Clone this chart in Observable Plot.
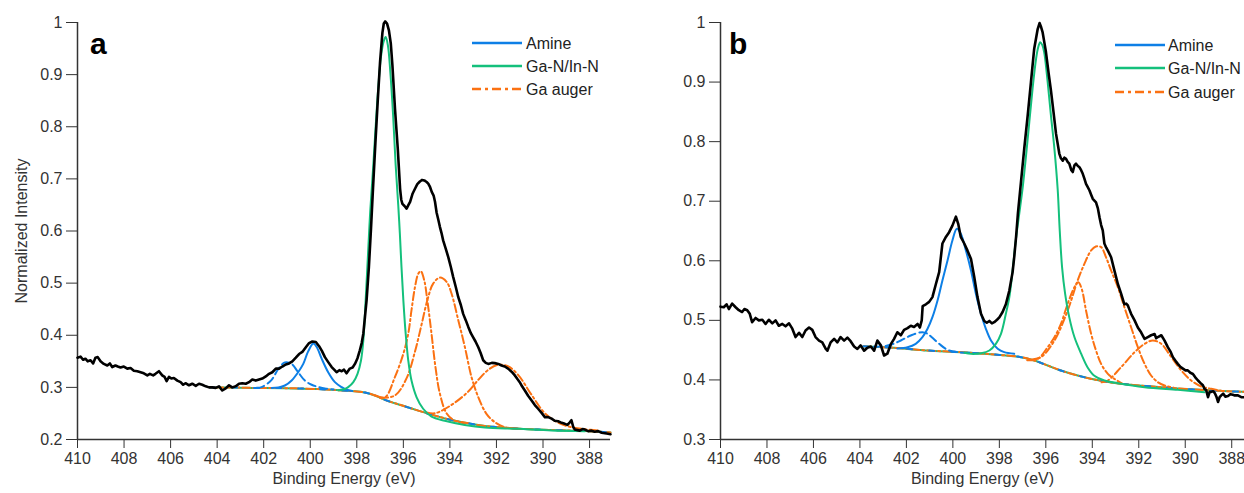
<!DOCTYPE html>
<html>
<head>
<meta charset="utf-8">
<script src="https://cdn.jsdelivr.net/npm/d3@7"></script>
<script src="https://cdn.jsdelivr.net/npm/@observablehq/plot@0.6"></script>
<style>
  body { margin: 0; background: #fff; }
  #wrap { position: relative; width: 1244px; height: 493px; overflow: hidden; font-family: "Liberation Sans", Arial, sans-serif; }
  .panel { position: absolute; top: 0; }
  #overlay { position: absolute; left: 0; top: 0; pointer-events: none; }
</style>
</head>
<body>
<div id="wrap">
  <div class="panel" id="pa" style="left:0px"></div>
  <div class="panel" id="pb" style="left:622px"></div>
  <svg id="overlay" width="1244" height="493"></svg>
</div>
<script>
// ---------- tick values / labels ----------
const xTicks = [410, 408, 406, 404, 402, 400, 398, 396, 394, 392, 390, 388];
const xTickLabels = ["410", "408", "406", "404", "402", "400", "398", "396", "394", "392", "390", "388"];
const yTicksA = [0.2, 0.3, 0.4, 0.5, 0.6, 0.7, 0.8, 0.9, 1];
const yTickLabelsA = ["0.2", "0.3", "0.4", "0.5", "0.6", "0.7", "0.8", "0.9", "1"];
const yTicksB = [0.3, 0.4, 0.5, 0.6, 0.7, 0.8, 0.9, 1];
const yTickLabelsB = ["0.3", "0.4", "0.5", "0.6", "0.7", "0.8", "0.9", "1"];
const legendLabels = ["Amine", "Ga-N/In-N", "Ga auger"];
const panelLetters = ["a", "b"];

// ---------- panel a : [binding energy, normalized intensity] ----------
const spectrumA = [[410.00,0.357],[409.87,0.359],[409.76,0.353],[409.66,0.355],[409.56,0.350],[409.44,0.352],[409.33,0.346],[409.23,0.357],[409.13,0.358],[409.01,0.350],[408.87,0.345],[408.72,0.342],[408.61,0.346],[408.51,0.339],[408.37,0.342],[408.27,0.340],[408.15,0.338],[408.01,0.340],[407.86,0.336],[407.72,0.337],[407.58,0.332],[407.43,0.331],[407.29,0.329],[407.15,0.327],[407.00,0.323],[406.89,0.326],[406.75,0.323],[406.65,0.326],[406.50,0.331],[406.36,0.323],[406.26,0.320],[406.17,0.312],[406.07,0.320],[405.97,0.317],[405.86,0.318],[405.71,0.313],[405.57,0.310],[405.46,0.305],[405.36,0.308],[405.21,0.304],[405.07,0.307],[404.92,0.303],[404.78,0.307],[404.64,0.305],[404.49,0.302],[404.35,0.300],[404.21,0.300],[404.06,0.299],[403.92,0.302],[403.78,0.294],[403.63,0.298],[403.49,0.304],[403.35,0.300],[403.20,0.302],[403.06,0.307],[402.92,0.308],[402.77,0.307],[402.63,0.310],[402.49,0.315],[402.34,0.313],[402.20,0.315],[402.06,0.317],[401.91,0.321],[401.77,0.326],[401.63,0.329],[401.48,0.336],[401.34,0.336],[401.20,0.340],[401.05,0.344],[400.91,0.346],[400.77,0.350],[400.62,0.357],[400.48,0.364],[400.34,0.368],[400.19,0.377],[400.05,0.385],[399.91,0.388],[399.76,0.387],[399.62,0.379],[399.50,0.370],[399.37,0.358],[399.22,0.348],[399.08,0.339],[398.95,0.333],[398.87,0.329],[398.75,0.333],[398.65,0.331],[398.55,0.334],[398.44,0.327],[398.30,0.336],[398.18,0.338],[398.08,0.345],[397.97,0.356],[397.87,0.371],[397.79,0.385],[397.72,0.403],[397.65,0.435],[397.58,0.467],[397.48,0.531],[397.39,0.605],[397.30,0.685],[397.20,0.770],[397.10,0.850],[397.00,0.925],[396.90,0.980],[396.84,0.998],[396.78,1.002],[396.70,0.998],[396.62,0.985],[396.54,0.960],[396.47,0.918],[396.36,0.835],[396.24,0.758],[396.14,0.681],[396.09,0.660],[396.04,0.652],[395.95,0.648],[395.86,0.643],[395.78,0.650],[395.71,0.656],[395.60,0.672],[395.50,0.681],[395.40,0.690],[395.29,0.695],[395.20,0.698],[395.10,0.697],[395.00,0.694],[394.93,0.691],[394.85,0.684],[394.78,0.675],[394.70,0.668],[394.64,0.656],[394.57,0.635],[394.50,0.622],[394.43,0.608],[394.36,0.596],[394.29,0.582],[394.18,0.566],[394.07,0.550],[393.96,0.531],[393.86,0.512],[393.75,0.493],[393.64,0.473],[393.53,0.458],[393.43,0.441],[393.32,0.429],[393.21,0.416],[393.10,0.404],[393.00,0.396],[392.90,0.388],[392.78,0.377],[392.68,0.366],[392.57,0.352],[392.46,0.347],[392.35,0.345],[392.20,0.347],[392.07,0.3465],[391.92,0.345],[391.78,0.342],[391.64,0.340],[391.50,0.336],[391.35,0.330],[391.21,0.323],[391.10,0.316],[391.00,0.310],[390.90,0.302],[390.78,0.294],[390.64,0.284],[390.49,0.275],[390.35,0.266],[390.21,0.259],[390.06,0.251],[389.92,0.243],[389.78,0.243],[389.63,0.240],[389.50,0.236],[389.35,0.235],[389.20,0.232],[389.06,0.230],[388.95,0.228],[388.85,0.233],[388.78,0.237],[388.70,0.224],[388.63,0.219],[388.52,0.218],[388.42,0.217],[388.30,0.220],[388.20,0.219],[388.06,0.216],[387.92,0.217],[387.78,0.215],[387.63,0.216],[387.48,0.213],[387.34,0.212],[387.20,0.211],[387.10,0.210]];
const backgroundA = [[404.30,0.300],[403.00,0.2995],[402.52,0.299],[401.09,0.2985],[399.66,0.2967],[398.22,0.2928],[397.65,0.290],[397.22,0.2845],[396.79,0.276],[396.08,0.2656],[395.36,0.2554],[394.64,0.2458],[393.93,0.2374],[393.21,0.231],[392.50,0.2259],[391.07,0.2208],[389.63,0.2182],[388.20,0.2163],[387.10,0.2135]];
const amineA = [[401.66,0.299],[401.37,0.300],[401.09,0.3036],[400.80,0.3133],[400.52,0.329],[400.30,0.345],[400.09,0.369],[399.87,0.384],[399.73,0.378],[399.51,0.355],[399.23,0.329],[398.94,0.310],[398.65,0.3004],[398.44,0.2955],[398.20,0.293]];
const amineDashedA = [[402.30,0.2992],[402.09,0.3004],[401.66,0.3145],[401.37,0.3357],[401.09,0.348],[400.80,0.345],[400.52,0.329],[400.23,0.313],[399.94,0.305],[399.66,0.301],[399.37,0.298],[399.00,0.296]];
const ganA = [[398.80,0.2945],[398.51,0.297],[398.37,0.3004],[398.15,0.310],[397.97,0.326],[397.82,0.3516],[397.72,0.390],[397.62,0.467],[397.51,0.563],[397.42,0.640],[397.30,0.720],[397.19,0.800],[397.07,0.880],[396.96,0.935],[396.85,0.963],[396.76,0.972],[396.66,0.955],[396.56,0.905],[396.44,0.822],[396.33,0.726],[396.22,0.650],[396.15,0.595],[396.08,0.531],[396.00,0.467],[395.90,0.403],[395.79,0.352],[395.65,0.313],[395.43,0.281],[395.15,0.259],[394.79,0.244],[394.22,0.236],[393.36,0.228],[392.50,0.223],[391.07,0.2205],[389.63,0.2173],[388.20,0.216]];
const augerA1 = [[397.20,0.2845],[396.79,0.281],[396.36,0.320],[396.00,0.3646],[395.79,0.403],[395.65,0.448],[395.50,0.4925],[395.36,0.518],[395.25,0.523],[395.10,0.505],[394.97,0.467],[394.79,0.403],[394.62,0.339],[394.43,0.288],[394.14,0.250],[393.79,0.236],[393.40,0.231]];
const augerA2 = [[397.00,0.280],[396.36,0.2845],[395.86,0.3177],[395.50,0.3688],[395.22,0.420],[394.97,0.467],[394.72,0.499],[394.43,0.5106],[394.14,0.5023],[393.93,0.480],[393.64,0.429],[393.36,0.378],[393.07,0.3196],[392.78,0.2812],[392.43,0.2493],[392.07,0.2333],[391.64,0.2237],[391.00,0.2208]];
const augerA3 = [[395.00,0.252],[394.64,0.2504],[393.93,0.2664],[393.21,0.292],[392.78,0.3145],[392.35,0.3337],[391.92,0.3433],[391.49,0.340],[391.07,0.324],[390.49,0.2856],[389.92,0.2504],[389.35,0.2325],[388.77,0.2235],[388.20,0.2197],[387.60,0.217]];

// ---------- panel b ----------
const spectrumB = [[410.00,0.523],[409.86,0.522],[409.74,0.527],[409.64,0.519],[409.50,0.528],[409.35,0.522],[409.21,0.517],[409.07,0.514],[408.97,0.519],[408.85,0.517],[408.74,0.511],[408.64,0.497],[408.49,0.504],[408.35,0.500],[408.20,0.501],[408.06,0.494],[407.92,0.501],[407.77,0.495],[407.63,0.500],[407.49,0.491],[407.34,0.494],[407.20,0.490],[407.05,0.495],[406.91,0.486],[406.77,0.472],[406.62,0.479],[406.48,0.472],[406.34,0.483],[406.19,0.488],[406.05,0.484],[405.91,0.472],[405.76,0.466],[405.62,0.463],[405.47,0.452],[405.40,0.449],[405.26,0.463],[405.11,0.469],[404.97,0.463],[404.83,0.472],[404.68,0.466],[404.54,0.471],[404.40,0.465],[404.25,0.456],[404.11,0.452],[403.97,0.458],[403.82,0.449],[403.68,0.454],[403.53,0.456],[403.39,0.449],[403.25,0.466],[403.10,0.458],[402.96,0.441],[402.82,0.444],[402.67,0.460],[402.53,0.469],[402.39,0.480],[402.24,0.475],[402.10,0.484],[401.95,0.487],[401.81,0.491],[401.67,0.489],[401.52,0.494],[401.42,0.488],[401.34,0.500],[401.30,0.524],[401.16,0.527],[401.02,0.531],[400.88,0.539],[400.73,0.561],[400.59,0.581],[400.45,0.629],[400.30,0.640],[400.16,0.648],[400.02,0.659],[399.87,0.674],[399.77,0.662],[399.66,0.640],[399.51,0.629],[399.37,0.617],[399.22,0.603],[399.08,0.573],[398.94,0.539],[398.79,0.511],[398.65,0.499],[398.54,0.496],[398.43,0.499],[398.32,0.495],[398.22,0.497],[398.10,0.501],[398.00,0.505],[397.86,0.514],[397.72,0.527],[397.57,0.550],[397.43,0.581],[397.36,0.606],[397.28,0.640],[397.20,0.680],[397.07,0.732],[396.93,0.788],[396.78,0.844],[396.64,0.900],[396.50,0.956],[396.35,0.989],[396.27,0.999],[396.20,0.992],[396.14,0.984],[396.00,0.952],[395.88,0.915],[395.78,0.886],[395.67,0.850],[395.56,0.813],[395.42,0.780],[395.35,0.772],[395.27,0.768],[395.20,0.773],[395.13,0.771],[395.06,0.766],[394.99,0.763],[394.90,0.752],[394.84,0.749],[394.77,0.760],[394.70,0.763],[394.62,0.759],[394.55,0.757],[394.48,0.752],[394.41,0.746],[394.34,0.738],[394.27,0.729],[394.20,0.724],[394.12,0.718],[394.05,0.711],[393.98,0.704],[393.91,0.701],[393.84,0.698],[393.76,0.688],[393.69,0.673],[393.62,0.660],[393.55,0.651],[393.48,0.629],[393.40,0.622],[393.33,0.617],[393.19,0.606],[393.05,0.584],[392.90,0.561],[392.76,0.545],[392.62,0.527],[392.54,0.528],[392.47,0.525],[392.40,0.518],[392.33,0.511],[392.18,0.500],[392.04,0.488],[391.90,0.480],[391.75,0.469],[391.61,0.472],[391.47,0.475],[391.32,0.477],[391.25,0.470],[391.18,0.472],[391.03,0.475],[390.89,0.466],[390.75,0.455],[390.64,0.448],[390.53,0.438],[390.42,0.432],[390.32,0.427],[390.21,0.422],[390.10,0.419],[389.99,0.416],[389.89,0.416],[389.78,0.412],[389.67,0.410],[389.56,0.404],[389.45,0.399],[389.35,0.395],[389.24,0.391],[389.17,0.385],[389.10,0.383],[389.02,0.371],[388.95,0.380],[388.88,0.380],[388.80,0.381],[388.73,0.378],[388.66,0.372],[388.59,0.363],[388.52,0.371],[388.45,0.374],[388.37,0.377],[388.27,0.372],[388.16,0.373],[388.06,0.376],[387.95,0.375],[387.87,0.374],[387.73,0.374],[387.59,0.371],[387.45,0.371]];
const backgroundB = [[403.85,0.4565],[402.53,0.4539],[401.09,0.4494],[399.66,0.4466],[398.22,0.4427],[397.07,0.4382],[396.50,0.4326],[395.92,0.4242],[395.35,0.4158],[394.63,0.4074],[393.91,0.4007],[393.19,0.3957],[392.47,0.3923],[391.03,0.3878],[389.60,0.3839],[388.16,0.3811],[387.45,0.380]];
const amineB = [[402.39,0.4528],[401.95,0.455],[401.60,0.4606],[401.31,0.4718],[401.09,0.4858],[400.88,0.5053],[400.66,0.5333],[400.45,0.567],[400.23,0.6005],[400.02,0.634],[399.83,0.6537],[399.66,0.6453],[399.44,0.6173],[399.22,0.5837],[399.01,0.5446],[398.79,0.511],[398.58,0.4858],[398.36,0.4662],[398.07,0.4522],[397.79,0.4466],[397.36,0.4438]];
const amineDashedB = [[403.40,0.4555],[403.10,0.456],[402.67,0.459],[402.24,0.4662],[401.81,0.4746],[401.31,0.4802],[401.09,0.4774],[400.88,0.4707],[400.59,0.4606],[400.23,0.4505],[399.80,0.4466],[399.30,0.4455]];
const ganB = [[399.50,0.4455],[399.22,0.4438],[398.79,0.4449],[398.43,0.4494],[398.15,0.4606],[397.93,0.4774],[397.72,0.511],[397.57,0.5389],[397.43,0.5837],[397.29,0.635],[397.14,0.680],[396.99,0.725],[396.85,0.777],[396.71,0.833],[396.57,0.889],[396.42,0.939],[396.33,0.958],[396.24,0.967],[396.15,0.962],[396.07,0.950],[395.92,0.900],[395.78,0.844],[395.63,0.788],[395.49,0.720],[395.40,0.650],[395.30,0.589],[395.17,0.545],[394.99,0.505],[394.77,0.472],[394.48,0.444],[394.20,0.421],[393.91,0.407],[393.48,0.399],[392.90,0.3945],[391.75,0.3878],[390.32,0.3833],[389.17,0.3794]];
const augerB1 = [[396.80,0.433],[396.35,0.4354],[395.92,0.455],[395.63,0.4718],[395.35,0.494],[395.06,0.5277],[394.77,0.5557],[394.60,0.564],[394.45,0.552],[394.27,0.5165],[394.05,0.4774],[393.84,0.4494],[393.62,0.427],[393.33,0.4102],[393.05,0.4018],[392.70,0.3935]];
const augerB2 = [[396.60,0.4345],[396.21,0.4382],[395.63,0.4662],[395.06,0.5165],[394.63,0.5669],[394.34,0.5949],[394.05,0.6173],[393.85,0.624],[393.62,0.6229],[393.41,0.606],[393.19,0.5837],[392.90,0.5557],[392.62,0.5221],[392.33,0.4885],[392.04,0.455],[391.75,0.427],[391.47,0.4074],[391.18,0.3962],[390.89,0.3906],[390.50,0.387]];
const augerB3 = [[393.60,0.396],[393.33,0.399],[392.76,0.4214],[392.18,0.4466],[391.75,0.4606],[391.40,0.4662],[391.03,0.4606],[390.60,0.4382],[390.17,0.4158],[389.74,0.399],[389.31,0.389],[388.88,0.3851],[388.40,0.3815]];

// ---------- style ----------
const BLUE = "#0d7fe6", GREEN = "#14c07c", ORANGE = "#fb7112", INK = "#333";
const DASH = "8,4", DASHDOT = "8,3,2,3";
const FONT = "'Liberation Sans', Arial, sans-serif";

function panel(o) {
  const fit = {x: d => d[0], y: d => d[1], strokeWidth: 2, curve: "catmull-rom"};
  const marks = [
    Plot.ruleY([o.yTicks[0]], {stroke: INK, strokeWidth: 1.5}),
    Plot.ruleX([xTicks[0]], {stroke: INK, strokeWidth: 1.5}),
    Plot.axisX({ticks: xTicks, tickFormat: d => xTickLabels[xTicks.indexOf(d)], tickSize: 9, tickPadding: 4,
      label: "Binding Energy (eV)", labelAnchor: "center", labelArrow: "none", labelOffset: 44, stroke: INK}),
    Plot.axisY({ticks: o.yTicks, tickFormat: d => o.yLabels[o.yTicks.indexOf(d)], tickSize: 11, tickPadding: 4,
      label: o.yLabel, labelAnchor: "center", labelArrow: "none", labelOffset: 62, stroke: INK}),
    Plot.line(o.bg, {...fit, stroke: GREEN}),
    Plot.line(o.bg, {...fit, stroke: ORANGE, strokeDasharray: DASHDOT}),
    Plot.line(o.bg, {...fit, stroke: BLUE, strokeDasharray: "5,17"}),
    Plot.line(o.amineDashed, {...fit, stroke: BLUE, strokeDasharray: DASH}),
    Plot.line(o.amine, {...fit, stroke: BLUE}),
    ...o.auger.map(a => Plot.line(a, {...fit, stroke: ORANGE, strokeDasharray: DASHDOT})),
    Plot.line(o.gan, {...fit, stroke: GREEN}),
    Plot.line(o.spectrum, {x: d => d[0], y: d => d[1], stroke: "#000", strokeWidth: 2.6})
  ];
  return Plot.plot({
    width: 622, height: 493,
    marginLeft: o.marginLeft, marginRight: o.marginRight, marginTop: 22, marginBottom: 54,
    x: {domain: o.xDomain},
    y: {domain: [o.yTicks[0], 1]},
    style: {fontFamily: FONT, fontSize: "16px", color: INK, background: "transparent", overflow: "visible"},
    marks
  });
}

document.getElementById("pa").append(panel({
  spectrum: spectrumA, bg: backgroundA, amine: amineA, amineDashed: amineDashedA, gan: ganA,
  auger: [augerA1, augerA2, augerA3], xDomain: [410, 387.1], yTicks: yTicksA, yLabels: yTickLabelsA,
  marginLeft: 77, marginRight: 12, yLabel: "Normalized Intensity"
}));
document.getElementById("pb").append(panel({
  spectrum: spectrumB, bg: backgroundB, amine: amineB, amineDashed: amineDashedB, gan: ganB,
  auger: [augerB1, augerB2, augerB3], xDomain: [410, 387.45], yTicks: yTicksB, yLabels: yTickLabelsB,
  marginLeft: 98, marginRight: 0, yLabel: null
}));

// ---------- overlay: panel letters and legends ----------
const ov = d3.select("#overlay");
const legendStyles = [
  {stroke: BLUE, dash: null},
  {stroke: GREEN, dash: null},
  {stroke: ORANGE, dash: "9,4,3,4"}
];
const layouts = [
  {letterX: 90, letterY: 54, lx: 472, tx: 526, rows: [43, 66, 89]},
  {letterX: 729, letterY: 54, lx: 1115, tx: 1168, rows: [45, 68, 92]}
];
layouts.forEach((L, p) => {
  ov.append("text").attr("x", L.letterX).attr("y", L.letterY)
    .attr("font-family", FONT).attr("font-weight", "bold")
    .attr("font-size", 30).attr("fill", "#000").text(panelLetters[p]);
  legendLabels.forEach((lab, i) => {
    const s = legendStyles[i];
    ov.append("line").attr("x1", L.lx).attr("x2", L.lx + 50).attr("y1", L.rows[i]).attr("y2", L.rows[i])
      .attr("stroke", s.stroke).attr("stroke-width", 2.5).attr("stroke-dasharray", s.dash);
    ov.append("text").attr("x", L.tx).attr("y", L.rows[i] + 5.5)
      .attr("font-family", FONT).attr("font-size", 16)
      .attr("fill", "#222").text(lab);
  });
});
</script>
</body>
</html>
